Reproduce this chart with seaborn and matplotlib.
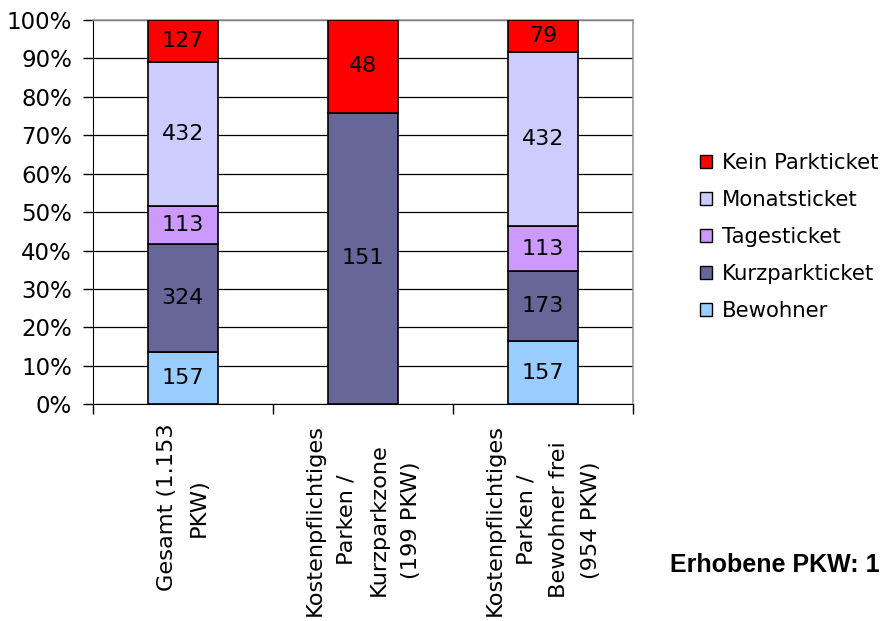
import numpy as np
import pandas as pd
import seaborn as sns
import matplotlib.pyplot as plt
from matplotlib.patches import Patch
from matplotlib.ticker import FixedLocator, PercentFormatter

# data
categories = ['Gesamt (1.153\nPKW)',
              'Kostenpflichtiges\nParken /\nKurzparkzone\n(199 PKW)',
              'Kostenpflichtiges\nParken /\nBewohner frei\n(954 PKW)']
series = ['Bewohner', 'Kurzparkticket', 'Tagesticket', 'Monatsticket', 'Kein Parkticket']
bewohner = [157, 0, 157]
kurzpark = [324, 151, 173]
tages = [113, 0, 113]
monats = [432, 0, 432]
kein = [127, 48, 79]
colors = ['#99CCFF', '#666699', '#CC99FF', '#CCCCFF', '#FF0000']

counts = np.array([bewohner, kurzpark, tages, monats, kein], dtype=float)
totals = counts.sum(axis=0)
shares = counts / totals * 100

sns.set_style('white')
plt.rcParams['font.family'] = ['DejaVu Sans']
plt.rcParams['text.color'] = 'black'
plt.rcParams['xtick.color'] = 'black'
plt.rcParams['ytick.color'] = 'black'

fig = plt.figure(figsize=(8.85, 6.21), dpi=100)
ax = fig.add_axes([0.105, 0.349, 0.61, 0.619])

bottom = np.zeros(len(categories))
for i, name in enumerate(series):
    df = pd.DataFrame({'cat': categories, 'val': shares[i]})
    sns.barplot(data=df, x='cat', y='val', ax=ax, color=colors[i], saturation=1,
                bottom=bottom.copy(), width=0.39, edgecolor='black', linewidth=1.2,
                zorder=3)
    labels = [str(int(v)) if v > 0 else '' for v in counts[i]]
    ax.bar_label(ax.containers[-1], labels=labels, label_type='center', fontsize=16)
    bottom += shares[i]

#axis formatting
ax.set_xlim(-0.5, 2.5)
ax.set_ylim(0, 100)
ax.yaxis.set_major_locator(FixedLocator(np.arange(0, 101, 10)))
ax.yaxis.set_major_formatter(PercentFormatter(decimals=0))
ax.grid(axis='y', color='black', linewidth=0.9, zorder=0)
ax.set_axisbelow(True)
ax.set_xlabel('')
ax.set_ylabel('')
ax.tick_params(axis='y', direction='out', length=7, width=1, labelsize=16.5, pad=8, left=True)
ax.tick_params(axis='x', which='major', length=0, labelsize=16.2, pad=14)
ax.set_xticks([-0.5, 0.5, 1.5, 2.5], minor=True)
ax.tick_params(axis='x', which='minor', direction='out', length=7, width=1, bottom=True)
for lab in ax.get_xticklabels():
    lab.set_rotation(90)
    lab.set_multialignment('center')
    lab.set_linespacing(1.75)
for s in ['left', 'bottom']:
    ax.spines[s].set_color('black')
for s in ['top', 'right']:
    ax.spines[s].set_color('#999999')
    ax.spines[s].set_linewidth(1.2)

#legend
handles = [Patch(facecolor=colors[i], edgecolor='black', label=series[i])
           for i in range(len(series) - 1, -1, -1)]
fig.legend(handles=handles, loc='center left', bbox_to_anchor=(0.781, 0.618),
           frameon=False, fontsize=15.3, handlelength=0.6, handleheight=0.6,
           handletextpad=0.45, labelspacing=0.8, borderaxespad=0)

fig.text(0.757, 0.09, 'Erhobene PKW: 1', fontsize=18, fontweight='bold',
         family='Liberation Sans', va='center', ha='left')

plt.savefig('out.png', dpi=100)
